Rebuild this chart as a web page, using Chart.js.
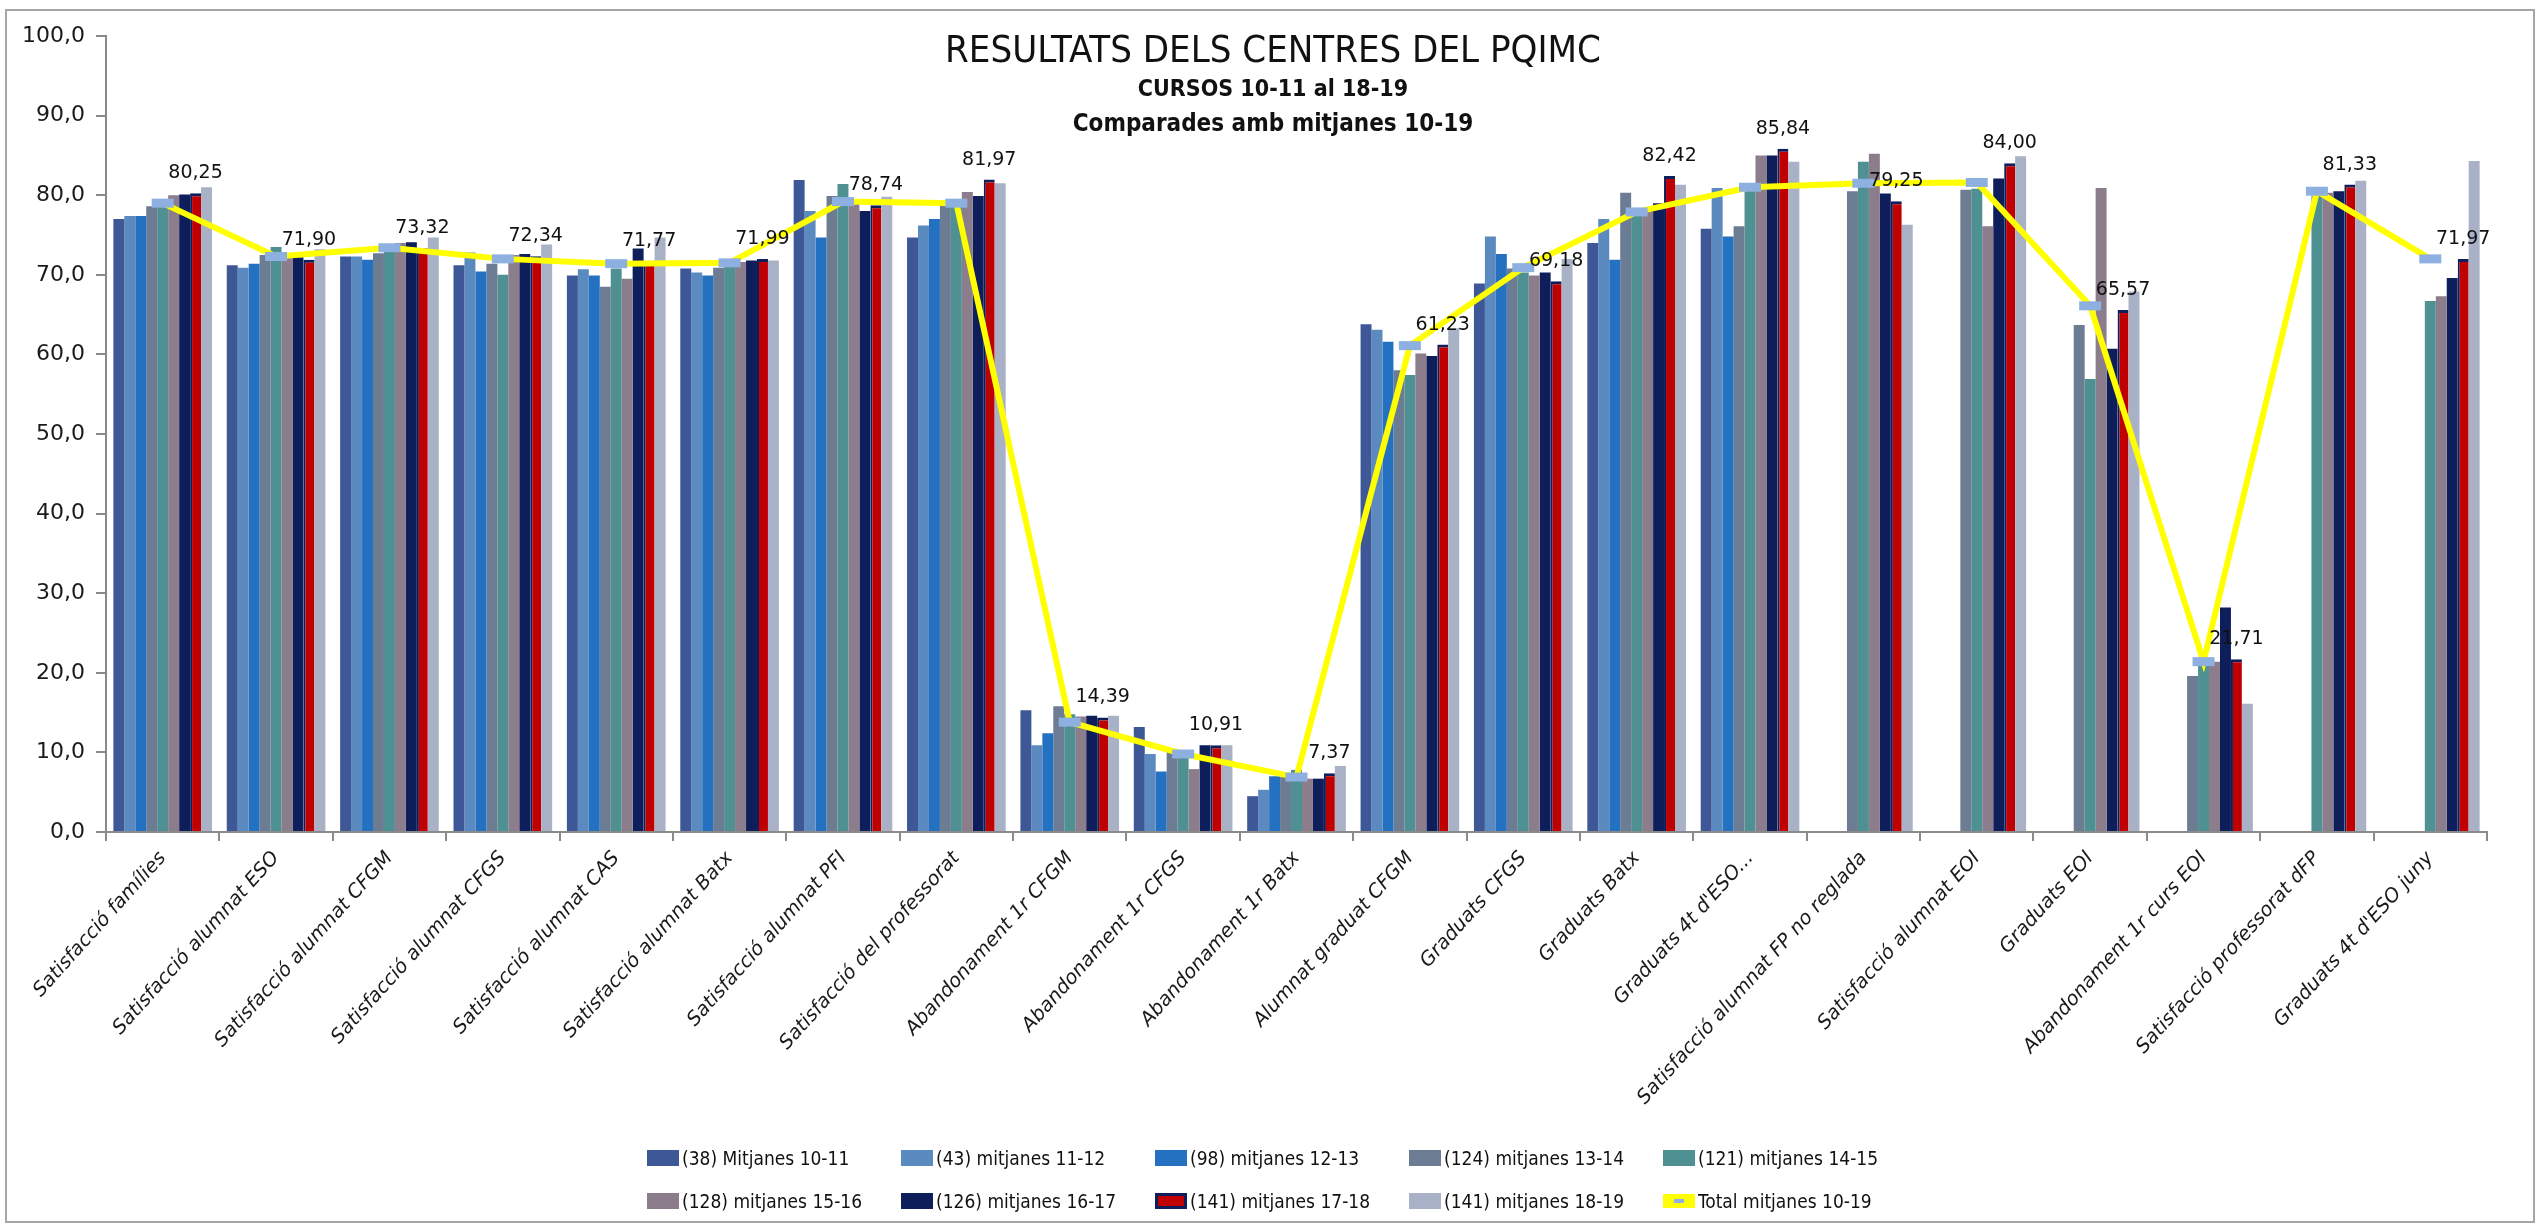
<!DOCTYPE html>
<html>
<head>
<meta charset="utf-8">
<script src="https://cdn.jsdelivr.net/npm/chart.js@4/dist/chart.umd.min.js"></script>
<style>
html,body{margin:0;padding:0;background:#fff;}
#wrap{position:relative;width:2539px;height:1226px;overflow:hidden;background:#fff;}
#c{position:absolute;left:0;top:0;}
#frame{position:absolute;left:5px;top:9px;width:2530px;height:1214px;border:2px solid #a6a6a6;box-sizing:border-box;pointer-events:none;}
.ttl{position:absolute;left:0;width:2546px;text-align:center;white-space:nowrap;color:#111;}
#t1{top:30px;font:38px "Liberation Sans Narrow","DejaVu Sans Condensed",sans-serif;line-height:38px;}
#t2{top:76px;font:bold 23px "DejaVu Sans Condensed","DejaVu Sans",sans-serif;line-height:24px;}
#t3{top:111px;font:bold 24px "DejaVu Sans Condensed","DejaVu Sans",sans-serif;line-height:24px;}
#legend{position:absolute;left:647px;top:1145px;display:grid;grid-template-columns:repeat(5,254px);row-gap:17px;}
.li{display:flex;align-items:center;height:26px;font:19px "DejaVu Sans Condensed","DejaVu Sans",sans-serif;color:#111;white-space:nowrap;}
.sw{width:32px;height:16px;margin-right:3px;box-sizing:border-box;position:relative;flex:none;}
</style>
</head>
<body>
<div id="wrap">
  <canvas id="c" width="2539" height="1226"></canvas>
  <div id="frame"></div>
  <div class="ttl" id="t1">RESULTATS DELS CENTRES DEL PQIMC</div>
  <div class="ttl" id="t2">CURSOS 10-11 al 18-19</div>
  <div class="ttl" id="t3">Comparades amb mitjanes 10-19</div>
  <div id="legend"></div>
</div>
<script>
const categories = [
  "Satisfacció famílies","Satisfacció alumnat ESO","Satisfacció alumnat CFGM","Satisfacció alumnat CFGS",
  "Satisfacció alumnat CAS","Satisfacció alumnat Batx","Satisfacció alumnat PFI","Satisfacció del professorat",
  "Abandonament 1r CFGM","Abandonament 1r CFGS","Abandonament 1r Batx","Alumnat graduat CFGM",
  "Graduats CFGS","Graduats Batx","Graduats 4t d'ESO...","Satisfacció alumnat FP no reglada",
  "Satisfacció alumnat EOI","Graduats EOI","Abandonament 1r curs EOI","Satisfacció professorat dFP",
  "Graduats 4t d'ESO juny"
];
const seriesNames = [
  "(38) Mitjanes 10-11","(43) mitjanes 11-12","(98) mitjanes 12-13","(124) mitjanes 13-14","(121) mitjanes 14-15",
  "(128) mitjanes 15-16","(126) mitjanes 16-17","(141) mitjanes 17-18","(141) mitjanes 18-19"
];
const lineName = "Total mitjanes 10-19";
const m1011 = [77.0,71.2,72.3,71.2,69.9,70.8,81.9,74.7,15.3,13.2,4.5,63.8,68.9,74.0,75.8,null,null,null,null,null,null];
const m1112 = [77.4,70.9,72.3,72.8,70.7,70.3,78.0,76.2,10.9,9.8,5.3,63.1,74.8,77.0,80.9,null,null,null,null,null,null];
const m1213 = [77.4,71.4,71.9,70.4,69.9,69.9,74.7,77.0,12.4,7.6,7.0,61.6,72.6,71.9,74.8,null,null,null,null,null,null];
const m1314 = [78.6,72.5,72.7,71.4,68.5,70.9,79.9,78.7,15.8,10.1,6.9,58.0,70.8,80.3,76.1,80.5,80.7,63.7,19.6,null,null];
const m1415 = [78.6,73.5,72.9,70.0,70.8,71.3,81.4,78.9,14.8,9.9,7.8,57.4,70.3,77.8,81.5,84.2,80.8,56.9,20.9,79.9,66.7];
const m1516 = [80.0,72.5,74.0,72.5,69.5,71.6,79.5,80.4,14.5,7.9,6.7,60.1,69.9,78.0,85.0,85.2,76.1,80.9,21.4,80.3,67.3];
const m1617 = [80.1,72.2,74.1,72.6,73.3,71.8,78.0,79.9,14.6,10.9,6.7,59.8,70.3,79.0,85.0,80.2,82.1,60.7,28.2,80.5,69.6];
const m1718 = [80.25,71.90,73.32,72.34,71.77,71.99,78.74,81.97,14.39,10.91,7.37,61.23,69.18,82.42,85.84,79.25,84.00,65.57,21.71,81.33,71.97];
const m1819 = [81.0,73.2,74.7,73.8,74.7,71.8,79.8,81.5,14.6,10.9,8.3,63.3,72.0,81.3,84.2,76.3,84.9,67.9,16.1,81.8,84.3];
const totalMitjanes = [79.0,72.3,73.4,72.0,71.4,71.5,79.2,79.0,13.8,9.8,6.9,61.1,70.9,77.9,81.0,81.5,81.6,66.1,21.4,80.5,72.0];
const yMin = 0, yMax = 100, yStep = 10;

const seriesData = [m1011,m1112,m1213,m1314,m1415,m1516,m1617,m1718,m1819];
const colors = ["#3E5897","#5A8AC0","#2571C1","#6C7C93","#4F9093","#8B7D8B","#0D1E5B","#C00000","#A8B1C5"];
const fmt = (v, d) => v.toFixed(d).replace('.', ',');

const datasets = seriesData.map((d, i) => ({
  type: 'bar',
  label: seriesNames[i],
  data: d,
  backgroundColor: colors[i],
  borderColor: i === 7 ? '#0D1E5B' : colors[i],
  borderWidth: i === 7 ? {top: 3, left: 2, right: 0, bottom: 0} : 0,
  borderSkipped: 'bottom',
  categoryPercentage: 0.87,
  barPercentage: 1.0,
  order: 1
}));
datasets.push({
  type: 'line',
  label: lineName,
  data: totalMitjanes,
  borderColor: '#FFFF00',
  borderWidth: 6,
  tension: 0,
  pointStyle: 'line',
  pointRadius: 11,
  pointBorderWidth: 9,
  pointBorderColor: '#8DB0E0',
  pointBackgroundColor: '#8DB0E0',
  order: 0
});

const redLabels = {
  id: 'redLabels',
  afterDatasetsDraw(chart) {
    const ctx = chart.ctx;
    const meta = chart.getDatasetMeta(7);
    ctx.save();
    ctx.font = '19px "DejaVu Sans", sans-serif';
    ctx.fillStyle = '#111';
    ctx.textAlign = 'center';
    ctx.textBaseline = 'alphabetic';
    meta.data.forEach((el, i) => {
      const v = m1718[i];
      if (v == null) return;
      ctx.fillText(fmt(v, 2), el.x, el.y - 15);
    });
    ctx.restore();
  }
};

const FONT = '"DejaVu Sans", sans-serif';
new Chart(document.getElementById('c'), {
  type: 'bar',
  data: { labels: categories, datasets },
  options: {
    responsive: false,
    animation: false,
    layout: { padding: { left: 10, right: 52, top: 36, bottom: 94 } },
    plugins: { legend: { display: false }, tooltip: { enabled: false }, title: { display: false } },
    scales: {
      x: {
        grid: { display: true, drawOnChartArea: false, offset: true, tickLength: 9, color: '#8a8a8a', lineWidth: 2 },
        border: { color: '#8a8a8a', width: 2 },
        ticks: { autoSkip: false, minRotation: 48, maxRotation: 48, padding: 6, color: '#1a1a1a',
                 font: { family: FONT, style: 'italic', size: 19.5 } },
        afterFit: s => { s.height = 300; }
      },
      y: {
        min: yMin, max: yMax,
        grid: { display: true, drawOnChartArea: false, tickLength: 10, color: '#8a8a8a', lineWidth: 2 },
        border: { color: '#8a8a8a', width: 2 },
        ticks: { stepSize: yStep, padding: 11, color: '#1a1a1a', font: { family: FONT, size: 22 },
                 callback: v => fmt(v, 1) },
        afterFit: s => { s.width = 96; }
      }
    }
  },
  plugins: [redLabels]
});

// HTML legend built from the dataset definitions
const lg = document.getElementById('legend');
datasets.forEach((ds, i) => {
  const item = document.createElement('div'); item.className = 'li';
  const sw = document.createElement('span'); sw.className = 'sw';
  if (ds.type === 'line') {
    sw.style.background = ds.borderColor; sw.style.height = '14px';
    const dash = document.createElement('span');
    dash.style.cssText = 'position:absolute;left:11px;top:5px;width:10px;height:4px;background:' + ds.pointBorderColor;
    sw.appendChild(dash);
  } else {
    sw.style.background = ds.backgroundColor;
    if (i === 7) sw.style.border = '3px solid #0D1E5B';
  }
  item.appendChild(sw);
  item.appendChild(document.createTextNode(ds.label));
  lg.appendChild(item);
});
</script>
</body>
</html>
